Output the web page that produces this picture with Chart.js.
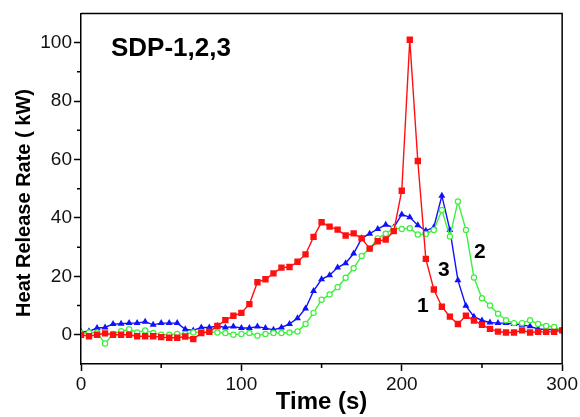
<!DOCTYPE html>
<html>
<head>
<meta charset="utf-8">
<script src="https://cdn.jsdelivr.net/npm/chart.js@4.4.1/dist/chart.umd.min.js"></script>
<style>
  html, body { margin: 0; padding: 0; background: #fff; }
  #wrap { width: 580px; height: 417px; position: relative; }
</style>
</head>
<body>
<div id="wrap"><canvas id="hrr"></canvas></div>
<script>
// time axis (s), one sample every 5 s
const times = [0, 5, 10, 15, 20, 25, 30, 35, 40, 45, 50, 55, 60, 65, 70, 75, 80, 85, 90, 95,
  100, 105, 110, 115, 120, 125, 130, 135, 140, 145, 150, 155, 160, 165, 170, 175, 180, 185, 190, 195,
  200, 205, 210, 215, 220, 225, 230, 235, 240, 245, 250, 255, 260, 265, 270, 275, 280, 285, 290, 295, 300];

// heat release rate (kW)
const sdp1 = [0, -0.5, 0, 0.5, 0, 0, 0, -0.5, -0.5, -0.5, -0.8, -1, -1, -0.6, -1.5, 0.6, 1, 3, 5, 6.5,
  7.5, 10.5, 18, 19, 21, 23, 23.2, 25, 27.5, 33.5, 38.5, 37, 36, 34, 34.7, 33, 29.5, 32, 32.6, 35.5,
  49.3, 101, 59.5, 26, 15.5, 9.6, 6.2, 3.7, 6.5, 4.9, 3.4, 2, 1.1, 0.8, 0.8, 1.5, 0.8, 1, 1, 1, 1.5];
const sdp2 = [0.5, 0.8, 0.8, -3, 0.3, 1.2, 1.9, 0.8, 1.5, 0.6, 0, 0, 0.3, 0.3, 0.8, 1, 1, 0.8, 0.6, 0,
  0.3, 0.6, -0.3, 0.3, 0.6, 0.6, 0.8, 1.1, 3.7, 7.5, 12, 13.8, 16.3, 19.5, 22.8, 27, 29.5, 33, 34.6, 36.5,
  36.2, 36.5, 34.3, 34.5, 35.9, 42.7, 33.6, 45.6, 35.9, 19.6, 12.5, 10, 7.2, 5, 4, 4, 5, 3.7, 3, 2.7, 1.5];
const sdp3 = [1, 1.2, 2.3, 2.5, 3.7, 3.8, 4, 4, 4.5, 3.4, 4, 4, 4, 1.9, 1.5, 2.5, 2.5, 3, 2.5, 2.8,
  2.3, 2.3, 2.8, 2.3, 1.7, 2.5, 3.7, 5.7, 9, 15, 19, 20.4, 23, 24.5, 27.8, 33, 34.6, 36.2, 37.7, 36.7,
  41.2, 40.2, 37.5, 35.6, 36.8, 47.6, 35.9, 18.7, 9.9, 6.2, 4.9, 4.2, 4, 4, 3.7, 3.4, 2.9, 2, 1.8, 1.8, 1.5];

const xTicks = [0, 100, 200, 300];
const yTicks = [0, 20, 40, 60, 80, 100];
const xMinor = [50, 150, 250];
const yMinor = [10, 30, 50, 70, 90];

const FONT = "'Liberation Sans', Arial, sans-serif";

const toPoints = arr => arr.map((v, i) => ({ x: times[i], y: v }));

// frame, minor ticks and the text labels inside the plot
const decor = {
    id: 'decor',
    afterDraw(chart) {
        const { ctx, chartArea: a, scales } = chart;
        ctx.save();
        ctx.strokeStyle = '#000';
        ctx.lineWidth = 1.5;
        ctx.beginPath();
        ctx.moveTo(a.left, a.top); ctx.lineTo(a.right, a.top); ctx.lineTo(a.right, a.bottom);
        xMinor.forEach(v => {
            const px = scales.x.getPixelForValue(v);
            ctx.moveTo(px, a.bottom); ctx.lineTo(px, a.bottom + 4);
        });
        yMinor.forEach(v => {
            const py = scales.y.getPixelForValue(v);
            ctx.moveTo(a.left, py); ctx.lineTo(a.left - 4, py);
        });
        ctx.stroke();

        ctx.fillStyle = '#000';
        ctx.font = 'bold 26px ' + FONT;
        ctx.textBaseline = 'alphabetic';
        ctx.textAlign = 'left';
        ctx.fillText('SDP-1,2,3', 111, 56);

        ctx.font = 'bold 21px ' + FONT;
        ctx.fillText('1', 417, 312);
        ctx.fillText('3', 438, 276);
        ctx.fillText('2', 474, 258);

        // y axis title
        ctx.font = 'bold 20px ' + FONT;
        ctx.textAlign = 'center';
        ctx.textBaseline = 'middle';
        ctx.translate(24, 203);
        ctx.rotate(-Math.PI / 2);
        ctx.fillText('Heat Release Rate ( kW)', 0, 0);
        ctx.restore();
    }
};

const axisCommon = {
    type: 'linear',
    border: { display: true, color: '#000', width: 1.5 },
    grid: { display: true, drawOnChartArea: false, drawTicks: true, tickLength: 7, tickColor: '#000', tickWidth: 1.5 },
    ticks: { color: '#111', font: { family: FONT, size: 19 }, padding: 2, maxRotation: 0, autoSkip: false }
};

new Chart(document.getElementById('hrr'), {
    type: 'line',
    data: {
        datasets: [
            {
                label: 'SDP-1', data: toPoints(sdp1),
                borderColor: '#ff1010', backgroundColor: '#ff1010', borderWidth: 1.4,
                pointStyle: 'rect', pointRadius: 4.5, pointBorderWidth: 0
            },
            {
                label: 'SDP-2', data: toPoints(sdp2),
                borderColor: '#3cf03c', backgroundColor: '#ffffff', borderWidth: 1.4,
                pointStyle: 'circle', pointRadius: 2.6, pointBorderWidth: 1.2, pointBorderColor: '#3cf03c'
            },
            {
                label: 'SDP-3', data: toPoints(sdp3),
                borderColor: '#1010ff', backgroundColor: '#1010ff', borderWidth: 1.4,
                pointStyle: 'triangle', pointRadius: 4, pointBorderWidth: 0
            }
        ]
    },
    options: {
        responsive: true,
        maintainAspectRatio: false,
        animation: false,
        layout: { padding: { top: 11, right: 17, left: 0, bottom: 0 } },
        plugins: { legend: { display: false }, tooltip: { enabled: false } },
        scales: {
            x: {
                ...axisCommon,
                min: 0, max: 300,
                afterBuildTicks: s => { s.ticks = xTicks.map(v => ({ value: v })); },
                afterFit: s => { s.height = 53; },
                title: { display: true, text: 'Time (s)', color: '#000', font: { family: FONT, size: 24, weight: 'bold' }, padding: { top: 0, bottom: 0 } }
            },
            y: {
                ...axisCommon,
                min: -10, max: 110,
                afterBuildTicks: s => { s.ticks = yTicks.map(v => ({ value: v })); },
                afterFit: s => { s.width = 81; }
            }
        }
    },
    plugins: [decor]
});
</script>
</body>
</html>
